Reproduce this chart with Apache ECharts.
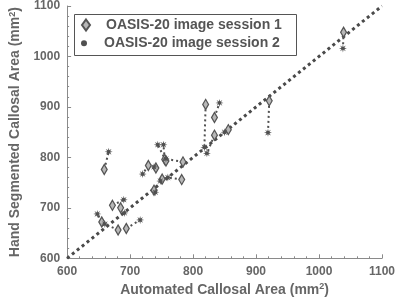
<!DOCTYPE html>
<html><head><meta charset="utf-8">
<script src="https://cdn.jsdelivr.net/npm/echarts@6/dist/echarts.min.js"></script>
<style>html,body{margin:0;padding:0;background:#fff}#c{width:398px;height:302px}</style>
</head><body><div id="c"></div>
<script>
// Session 1 (diamonds): automated area (x), hand segmented area (y)
const session1X = [659, 655, 672, 685, 681, 694, 729, 738, 755, 784, 751, 782, 820, 834, 834, 856, 921, 1039, 757, 741];
const session1Y = [776, 672, 705, 700, 656, 659, 784, 735, 796, 791, 757, 756, 905, 879, 844, 855, 912, 1048, 793, 779];
// Session 2 (asterisks)
const session2X = [666, 648, 690, 691, 660, 716, 720, 740, 753, 757, 748, 760, 818, 842, 822, 850, 919, 1038, 744, 738];
const session2Y = [811, 688, 716, 690, 668, 676, 767, 731, 825, 797, 753, 760, 820, 908, 808, 850, 849, 1016, 825, 781];
const identityLine = [600, 1100];
const axisTicks = [600, 700, 800, 900, 1000, 1100];
const seriesNames = ['OASIS-20 image session 1', 'OASIS-20 image session 2'];

function starPath() {
  let d = '';
  for (let k = 0; k < 16; k++) {
    const a = k * Math.PI / 8;
    const r = k % 2 === 0 ? 10 : 4;
    const x = (10 + r * Math.sin(a)).toFixed(2), y = (10 - r * Math.cos(a)).toFixed(2);
    d += (k === 0 ? 'M' : 'L') + x + ',' + y;
  }
  return 'path://' + d + 'Z';
}
const STAR = starPath();
const DIAMOND = 'path://M4,0L8,5.5L4,11L0,5.5Z';
const CIRCLE = 'path://M0,5a5,5 0 1,0 10,0a5,5 0 1,0 -10,0Z';

const pairLines = session1X.map((x, i) => ({coords: [[x, session1Y[i]], [session2X[i], session2Y[i]]]}));
const s1 = session1X.map((x, i) => [x, session1Y[i]]);
const s2 = session2X.map((x, i) => [x, session2Y[i]]);

const axisColor = '#8a8a8a';
const textColor = '#666';
const labelFont = {color: textColor, fontSize: 12, fontWeight: 'bold', fontFamily: 'Liberation Sans'};
const nameFont = {color: textColor, fontSize: 14, fontWeight: 'bold', fontFamily: 'Liberation Sans',
  rich: {sup: {fontSize: 9, fontWeight: 'bold', color: textColor, verticalAlign: 'top', padding: [0,0,6,0], fontFamily: 'Liberation Sans'}}};

function makeAxis(extra) {
  return Object.assign({
    type: 'value', min: axisTicks[0], max: axisTicks[axisTicks.length - 1], interval: axisTicks[1] - axisTicks[0],
    axisLine: {show: true, onZero: false, lineStyle: {color: axisColor, width: 1}},
    axisTick: {show: true, inside: true, length: 4, lineStyle: {color: axisColor}},
    minorTick: {show: true, splitNumber: 5, length: 2, lineStyle: {color: axisColor}},
    splitLine: {show: false},
    axisLabel: Object.assign({margin: 7, formatter: v => String(v)}, labelFont),
    nameLocation: 'middle',
    nameTextStyle: nameFont
  }, extra);
}

const chart = echarts.init(document.getElementById('c'), null, {renderer: 'canvas'});
chart.setOption({
  animation: false,
  backgroundColor: '#fff',
  grid: {left: 61.7, right: 15.7, top: 6, bottom: 43.7},
  xAxis: makeAxis({name: 'Automated Callosal Area (mm{sup|2})', nameGap: 22}),
  yAxis: makeAxis({name: 'Hand Segmented Callosal Area (mm{sup|2})', nameGap: 43}),
  graphic: [{type: 'rect', shape: {x: 74.5, y: 14.5, width: 222, height: 41}, style: {fill: 'none', stroke: '#555', lineWidth: 1}, z: 10}],
  legend: [
    {data: [{name: seriesNames[0], icon: DIAMOND}], left: 81, top: 18, padding: 0, itemWidth: 30, itemHeight: 11,
     symbolKeepAspect: true, textStyle: {color: '#555', fontSize: 14, fontWeight: 'bold', fontFamily: 'Liberation Sans'}},
    {data: [{name: seriesNames[1], icon: CIRCLE}], left: 81, top: 36.3, padding: 0, itemWidth: 30, itemHeight: 6,
     symbolKeepAspect: true, textStyle: {color: '#555', fontSize: 14, fontWeight: 'bold', fontFamily: 'Liberation Sans'}}
  ],
  series: [
    {type: 'lines', coordinateSystem: 'cartesian2d', silent: true, z: 1, data: pairLines,
     lineStyle: {color: '#505050', width: 2, type: [2, 3], opacity: 1}},
    {type: 'line', silent: true, z: 2, showSymbol: false, symbol: 'none',
     data: [[identityLine[0], identityLine[0]], [identityLine[1], identityLine[1]]],
     lineStyle: {color: '#4a4a4a', width: 3, type: [3, 3.3]}},
    {name: seriesNames[0], type: 'scatter', z: 3, data: s1, symbol: DIAMOND, symbolSize: [8, 10], symbolKeepAspect: true,
     itemStyle: {color: '#b8b8b8', borderColor: '#555', borderWidth: 1.3, opacity: 1}},
    {name: seriesNames[1], type: 'scatter', z: 4, data: s2, symbol: STAR, symbolSize: 8,
     itemStyle: {color: '#505050', opacity: 1}}
  ]
});
</script></body></html>
